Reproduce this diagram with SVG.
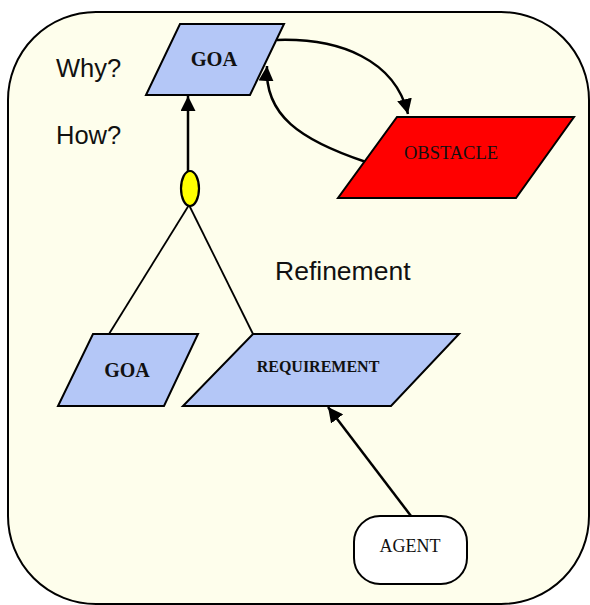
<svg xmlns="http://www.w3.org/2000/svg" width="590" height="605" viewBox="0 0 590 605">
<style>
.bg{fill:#fefeec;stroke:#000;stroke-width:2}
.blue{fill:#b4c7f7;stroke:#000;stroke-width:2;stroke-linejoin:miter}
.red{fill:#ff0000;stroke:#000;stroke-width:2}
.conn{fill:none;stroke:#000;stroke-width:2.5}
.thin{fill:none;stroke:#000;stroke-width:1.8}
.lbl{font-family:"Liberation Sans",Arial,sans-serif;fill:#111}
.tb{font-family:"Liberation Serif","Times New Roman",serif;font-weight:bold;fill:#111;text-anchor:middle}
.tr{font-family:"Liberation Serif","Times New Roman",serif;fill:#111;text-anchor:middle}
</style>
<defs>
<marker id="arr" viewBox="0 0 10 10" refX="10" refY="5" markerWidth="6" markerHeight="6" markerUnits="strokeWidth" orient="auto">
<path d="M0,0 L10,5 L0,10 Z" fill="#000"/>
</marker>
</defs>
<rect class="bg" x="8" y="12" width="581" height="592" rx="88" ry="88"/>
<text class="lbl" x="56" y="77" font-size="25.5">Why?</text>
<text class="lbl" x="56" y="144" font-size="25.5">How?</text>
<text class="lbl" x="275" y="280" font-size="26.5">Refinement</text>
<g id="connectors">
<line class="conn" x1="188" y1="172" x2="188" y2="96" marker-end="url(#arr)"/>
<line class="thin" x1="189" y1="205" x2="109" y2="334"/>
<line class="thin" x1="189" y1="205" x2="253" y2="334"/>
<path class="conn" d="M277 40 C340 38 395 60 408 114" marker-end="url(#arr)"/>
<path class="conn" d="M366 162 C300 140 264 115 267 66" marker-end="url(#arr)"/>
<line class="conn" x1="411" y1="516" x2="328" y2="407" marker-end="url(#arr)"/>
</g>
<g id="goal-top">
<polygon class="blue" points="180,24 284,24 250,95 146,95"/>
<text class="tb" x="214" y="66" font-size="20.5">GOA</text>
</g>
<g id="obstacle">
<polygon class="red" points="397,117 574,117 516,198 338,198"/>
<text class="tr" x="451" y="159" font-size="18.5">OBSTACLE</text>
</g>
<g id="and-node">
<ellipse cx="190" cy="188.5" rx="9" ry="17.5" fill="#ffff00" stroke="#000" stroke-width="2.2"/>
</g>
<g id="goal-bottom">
<polygon class="blue" points="93,334 198,334 164,406 58,406"/>
<text class="tb" x="127" y="377" font-size="20">GOA</text>
</g>
<g id="requirement">
<polygon class="blue" points="253,334 459,334 391,406 183,406"/>
<text class="tb" x="318" y="372" font-size="16">REQUIREMENT</text>
</g>
<g id="agent">
<rect x="354" y="516" width="113" height="68" rx="26" ry="26" fill="#fff" stroke="#000" stroke-width="2"/>
<text class="tr" x="410" y="552" font-size="18">AGENT</text>
</g>
</svg>
